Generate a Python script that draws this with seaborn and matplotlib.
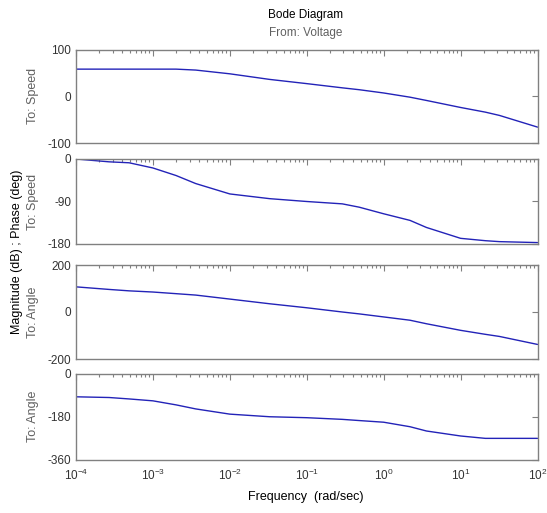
import numpy as np
import pandas as pd
import seaborn as sns
import matplotlib
matplotlib.use("Agg")
import matplotlib.pyplot as plt
from matplotlib.ticker import LogLocator, FixedLocator, NullFormatter

# ---- data ----
freq = [1e-4, 2.7e-4, 4.9e-4, 1e-3, 2e-3, 3.6e-3, 1e-2, 3.3e-2, 1e-1, 0.29, 0.48,
        1.0, 2.2, 3.6, 10.0, 21.0, 32.0, 100.0]
mag_speed = [58, 58, 58, 58, 58, 56, 48, 36, 27, 18, 14, 7, -2, -9, -24, -34, -41, -66]
phase_speed = [0, -6, -8, -19, -35, -52, -74, -84, -90, -95, -102, -116, -130, -145,
               -168, -173, -175, -177]
mag_angle = [107, 96, 90, 85, 78, 72, 55, 35, 18, 0, -8, -21, -35, -50, -78, -95, -104, -138]
phase_angle = [-96, -99, -105, -113, -130, -147, -169, -180, -184, -191, -196, -203,
               -222, -240, -261, -271, -271, -271]

row_labels = ["To: Speed", "To: Speed", "To: Angle", "To: Angle"]
y_ticks = [[-100, 0, 100], [-180, -90, 0], [-200, 0, 200], [-360, -180, 0]]
y_lims = [(-100, 100), (-180, 0), (-200, 200), (-360, 0)]
x_ticks = [1e-4, 1e-3, 1e-2, 1e-1, 1e0, 1e1, 1e2]
x_ticklabels = [r"$10^{-4}$", r"$10^{-3}$", r"$10^{-2}$", r"$10^{-1}$",
                r"$10^{0}$", r"$10^{1}$", r"$10^{2}$"]

series = [mag_speed, phase_speed, mag_angle, phase_angle]

sns.set_style("white")
plt.rcParams['font.family'] = ['Liberation Sans', 'DejaVu Sans']
plt.rcParams['mathtext.fontset'] = 'custom'
plt.rcParams['mathtext.rm'] = 'Liberation Sans'

W, H = 547, 513
fig = plt.figure(figsize=(W / 100, H / 100), dpi=100)
fig.patch.set_facecolor("white")

left_px, right_px = 76, 537.5
# (top, bottom) pixel rows of each panel
panels_px = [(49.5, 143), (159, 244), (265, 359), (374, 459.5)]

gray = "#808080"
txtgray = "#606060"
line_color = "#2323b8"

for i, ((top, bot), vals) in enumerate(zip(panels_px, series)):
    ax = fig.add_axes([left_px / W, (H - bot) / H, (right_px - left_px) / W, (bot - top) / H])
    df = pd.DataFrame({"freq": freq, "val": vals})
    sns.lineplot(data=df, x="freq", y="val", ax=ax, color=line_color, linewidth=1.0)
    ax.set_xscale("log")
    ax.set_xlim(1e-4, 1e2)
    ax.set_ylim(*y_lims[i])
    ax.set_yticks(y_ticks[i])
    ax.set_yticklabels([str(t) for t in y_ticks[i]])
    ax.xaxis.set_major_locator(FixedLocator(x_ticks))
    ax.xaxis.set_minor_locator(LogLocator(base=10, subs=np.arange(2, 10), numticks=20))
    ax.xaxis.set_minor_formatter(NullFormatter())
    if i == 3:
        ax.set_xticklabels(x_ticklabels)
    else:
        ax.set_xticklabels([])
    ax.tick_params(axis="both", which="both", direction="in", top=True, right=True,
                   colors=gray, labelcolor="#333333", labelsize=8.5, width=0.8)
    ax.tick_params(axis="both", which="major", length=4)
    ax.tick_params(axis="both", which="minor", length=2.5)
    ax.tick_params(axis="x", which="major", pad=6)
    for s in ax.spines.values():
        s.set_color(gray)
        s.set_linewidth(1.0)
    ax.set_xlabel("")
    ax.set_ylabel(row_labels[i], color=txtgray, fontsize=9)
    ax.yaxis.set_label_coords(-(76 - 39) / (right_px - left_px), 0.5)
    ax.grid(False)

fig.text(306 / W, 1 - 15 / H, "Bode Diagram", ha="center", va="center", fontsize=8.5, color="black")
fig.text(306 / W, 1 - 33 / H, "From: Voltage", ha="center", va="center", fontsize=8.5, color=txtgray)
fig.text(306 / W, 1 - 497 / H, "Frequency  (rad/sec)", ha="center", va="center", fontsize=9, color="black")
fig.text(17 / W, 1 - 252 / H, "Magnitude (dB) ; Phase (deg)", ha="center", va="center",
         rotation=90, fontsize=9, color="black")

fig.savefig("out.png", dpi=100)
